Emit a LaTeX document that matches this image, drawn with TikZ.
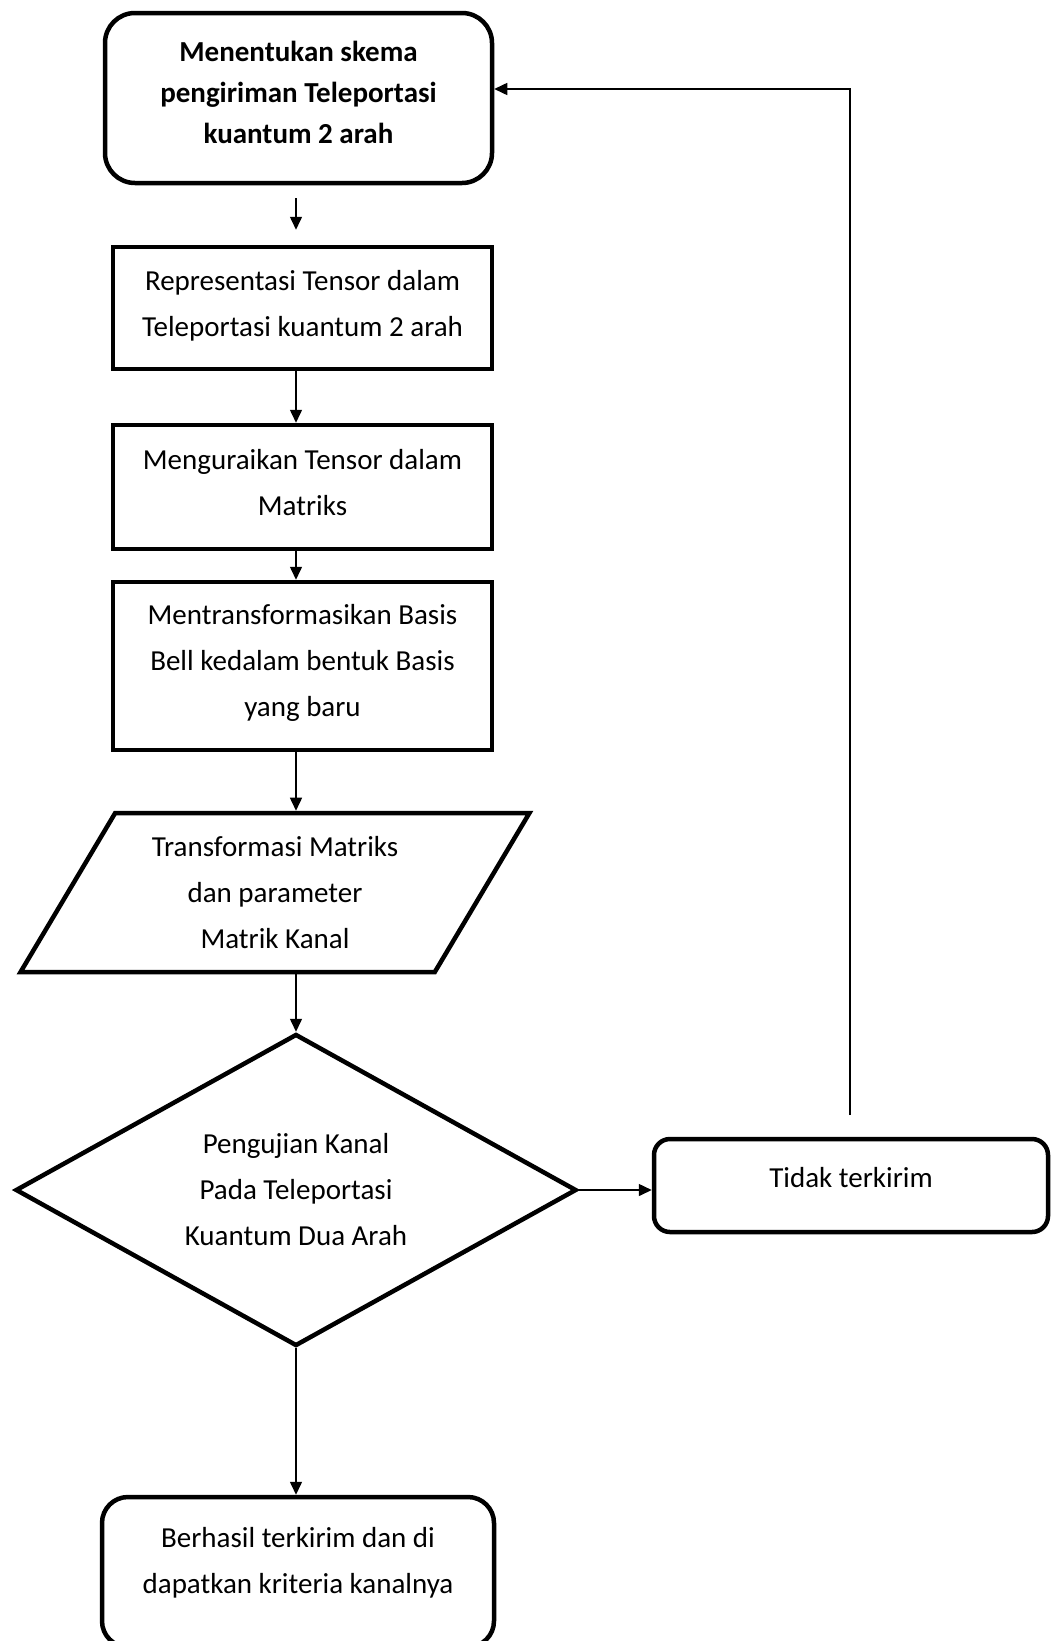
\documentclass[tikz,border=0pt]{standalone}
\usepackage{fontspec}
\setmainfont{Carlito}
\usetikzlibrary{arrows.meta, shapes.geometric}

\begin{document}
\begin{tikzpicture}[
    x=1pt, y=-1pt,
    box/.style={draw, line width=4.5pt, minimum width=379pt, align=center,
                font=\fontsize{29}{46}\selectfont, fill=white},
    rbox/.style={box, rounded corners=30pt},
    para/.style={box, trapezium, trapezium left angle=57, trapezium right angle=123,
                 trapezium stretches=true, inner sep=0pt},
    dec/.style={box, diamond, aspect=1.8, inner sep=0pt},
    arrow/.style={-{Triangle[length=13pt, width=12pt]}, line width=1.5pt},
]
\useasboundingbox (0,0) rectangle (1056,1641);

% ===== alur utama =====
\node[rbox, minimum width=387pt, minimum height=170pt, text depth=12pt,
      font=\bfseries\fontsize{29}{41}\selectfont] (skema) at (298.5, 98)
      {Menentukan skema\\pengiriman Teleportasi\\kuantum 2 arah};
\node[box, minimum height=122pt, text depth=10pt] (tensor) at (302.5, 308)
      {Representasi Tensor dalam\\Teleportasi kuantum 2 arah};
\node[box, minimum height=124pt, text depth=10pt] (urai) at (302.5, 487)
      {Menguraikan Tensor dalam\\Matriks};
\node[box, minimum height=168pt, text depth=12pt] (basis) at (302.5, 666)
      {Mentransformasikan Basis\\Bell kedalam bentuk Basis\\yang baru};
\node[para, minimum width=512pt, minimum height=159pt] (matriks) at (275, 892.5)
      {Transformasi Matriks\\dan parameter\\Matrik Kanal};
\node[dec, minimum width=561pt, minimum height=312pt] (uji) at (296, 1190)
      {Pengujian Kanal\\Pada Teleportasi\\Kuantum Dua Arah};

% ===== hasil =====
\node[rbox, rounded corners=16pt, minimum width=394pt, minimum height=93pt, text depth=16pt] (gagal) at (851, 1185.5)
      {Tidak terkirim};
\node[rbox, rounded corners=26pt, minimum width=392pt, minimum height=150pt, text depth=24pt] (hasil) at (298, 1572)
      {Berhasil terkirim dan di\\dapatkan kriteria kanalnya};

% ===== panah =====
\draw[arrow] ([yshift=-13pt]skema.south -| uji.north) -- ([yshift=15pt]tensor.north -| uji.north);
\draw[arrow] (tensor.south -| uji.north) -- (urai.north -| uji.north);
\draw[arrow] (urai.south -| uji.north)   -- (basis.north -| uji.north);
\draw[arrow] (basis.south -| uji.north)  -- (matriks.north -| uji.north);
\draw[arrow] (matriks.south -| uji.north) -- (uji.north);
\draw[arrow] (uji.east)  -- (uji.east -| gagal.west);
\draw[arrow] (uji.south) -- (hasil.north -| uji.south);
\coordinate (balik) at (850, 1115);
\draw[arrow] (balik) |- ([yshift=9pt]skema.east);
\end{tikzpicture}
\end{document}
